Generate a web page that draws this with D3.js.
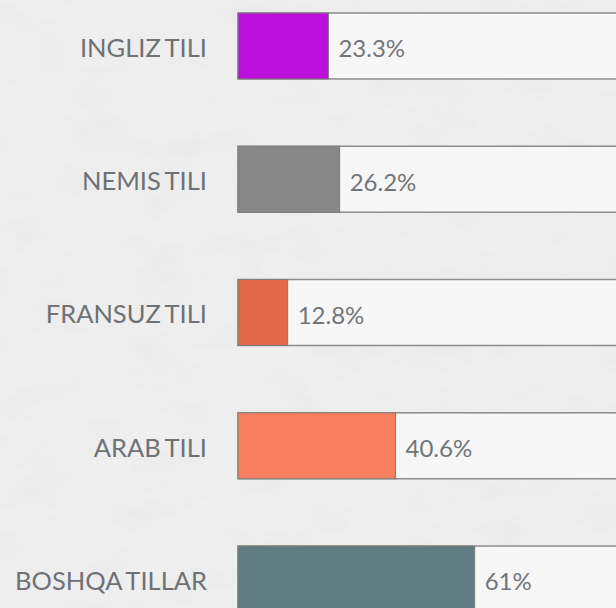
<!DOCTYPE html>
<html>
<head>
<meta charset="utf-8">
<script src="https://cdn.jsdelivr.net/npm/d3@7"></script>
<style>
  html, body { margin: 0; padding: 0; background: #ececec; }
  svg { display: block; }
  .label { font-family: Lato, sans-serif; font-size: 25.5px; fill: #6e7175; word-spacing: -2px; }
  .value { font-family: Lato, sans-serif; font-size: 24px; fill: #727579; }
</style>
</head>
<body>
<div id="chart"></div>
<script>
const languages = ['INGLIZ TILI', 'NEMIS TILI', 'FRANSUZ TILI', 'ARAB TILI', 'BOSHQA TILLAR'];
const shares = [23.3, 26.2, 12.8, 40.6, 61];
const valueLabels = ['23.3%', '26.2%', '12.8%', '40.6%', '61%'];
const colors = ['#bd0fdc', '#878787', '#e3674a', '#f77f5f', '#607b81'];

const width = 616;
const height = 608;

const svg = d3.select('#chart').append('svg')
  .attr('width', width)
  .attr('height', height);

// marble-ish backdrop
const defs = svg.append('defs');
const marble = defs.append('filter').attr('id', 'marble')
  .attr('x', 0).attr('y', 0).attr('width', '100%').attr('height', '100%');
marble.append('feTurbulence')
  .attr('type', 'fractalNoise')
  .attr('baseFrequency', '0.015 0.03')
  .attr('numOctaves', 5)
  .attr('seed', 7)
  .attr('result', 'noise');
marble.append('feColorMatrix')
  .attr('type', 'matrix')
  .attr('values', '0 0 0 0 0.7  0 0 0 0 0.7  0 0 0 0 0.7  0 0 0 -1.2 0.75');

svg.append('rect')
  .attr('width', width).attr('height', height)
  .attr('fill', '#efefef');
svg.append('rect')
  .attr('width', width).attr('height', height)
  .attr('filter', 'url(#marble)')
  .attr('opacity', 0.4);

const x = d3.scaleLinear()
  .domain([0, 100])
  .range([238, 626]);

// 5 rows, 66px bars, first top at 13
const y = d3.scaleBand()
  .domain(languages)
  .range([13, 612])
  .paddingInner(0.505)
  .paddingOuter(0);

const rows = svg.selectAll('.row')
  .data(languages)
  .enter()
  .append('g')
  .attr('class', 'row')
  .attr('transform', d => `translate(0,${y(d)})`);

// empty track
rows.append('rect')
  .attr('x', x(0))
  .attr('y', 0)
  .attr('width', x(100) - x(0))
  .attr('height', y.bandwidth())
  .attr('fill', '#f7f7f7')
  .attr('stroke', '#8c8c8c')
  .attr('stroke-width', 1.5);

// filled part
rows.append('rect')
  .attr('x', x(0))
  .attr('y', 0)
  .attr('width', (d, i) => x(shares[i]) - x(0))
  .attr('height', y.bandwidth())
  .attr('fill', (d, i) => colors[i])
  .attr('stroke', '#7d7d7d')
  .attr('stroke-width', 1);

rows.append('text')
  .attr('class', 'label')
  .attr('x', x(0) - 31)
  .attr('y', y.bandwidth() / 2 + 2)
  .attr('dy', '0.35em')
  .attr('text-anchor', 'end')
  .text(d => d);

rows.append('text')
  .attr('class', 'value')
  .attr('x', (d, i) => x(shares[i]) + 10)
  .attr('y', y.bandwidth() / 2 + 3)
  .attr('dy', '0.35em')
  .text((d, i) => valueLabels[i]);
</script>
</body>
</html>
